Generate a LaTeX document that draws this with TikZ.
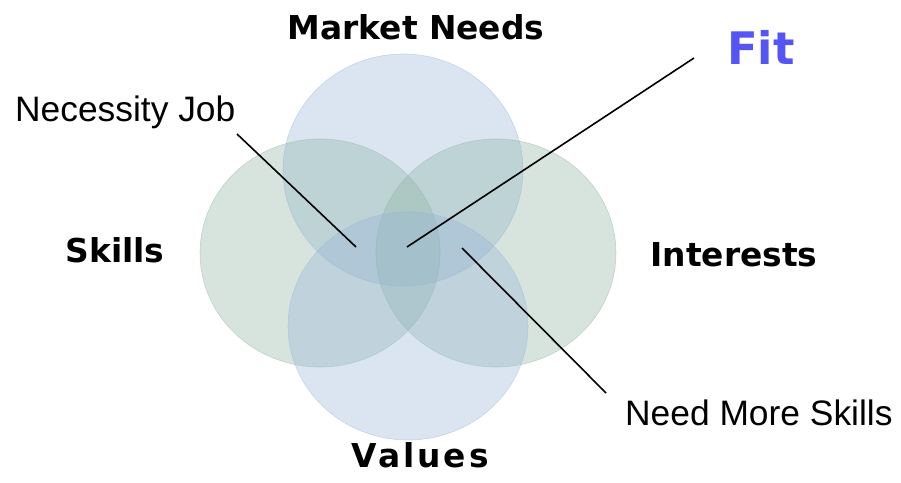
\documentclass[tikz,border=0pt]{standalone}
\usepackage{fontspec}
\setmainfont{Liberation Sans}
\newfontfamily\verdana{DejaVu Sans}
\usetikzlibrary{positioning}
\definecolor{vennblue}{RGB}{148,180,216}
\definecolor{venngreen}{RGB}{141,178,161}
\definecolor{fitblue}{RGB}{85,85,245}
\tikzset{%
  % Specifications for style of sets and labels:
        setbase/.style = {draw opacity=0.45, line width=0.6pt, fill opacity=0.35},
       bluesets/.style = {setbase, draw=vennblue, fill=vennblue},
      greensets/.style = {setbase, draw=venngreen, fill=venngreen},
       setlabel/.style = {inner sep=0pt, anchor=base,
                          font=\verdana\bfseries\fontsize{33}{40}\selectfont},
      arealabel/.style = {inner sep=0pt, anchor=base west,
                          font=\fontsize{35.5}{42}\selectfont},
        pointer/.style = {draw=black, line width=1.6bp},
}
\begin{document}
\begin{tikzpicture}[x=1bp, y=-1bp]
  \useasboundingbox (0,0) rectangle (901,483);
  % Specification of sets (position, etc.)
  \draw[bluesets]  (403,170) ellipse [x radius=120bp, y radius=116bp];
  \draw[greensets] (320,253) ellipse [x radius=120bp, y radius=114bp];
  \draw[greensets] (496,253) ellipse [x radius=120bp, y radius=114bp];
  \draw[bluesets]  (408,326) ellipse [x radius=120bp, y radius=114bp];
  % Labels of the sets
  \node (market)    [setlabel] at (416,40)  {Market Needs};
  \node (skills)    [setlabel] at (115,263) {Skills};
  \node (interests) [setlabel] at (734,267) {Interests};
  \node (values)    [setlabel,
                     font=\verdana\bfseries\fontsize{33}{40}\selectfont\addfontfeature{LetterSpace=9}]
                     at (420,467) {Values};
  \node (fit)       [setlabel, text=fitblue,
                     font=\verdana\bfseries\fontsize{45}{54}\selectfont] at (761,65) {Fit};
  \node (necjob)     [arealabel] at (15,122)  {Necessity Job};
  \node (moreskills) [arealabel] at (625,425) {Need More Skills};
  % Specification of pointers between labels and overlaps
  \coordinate (necpt)    at (356,247);
  \coordinate (fitpt)    at (407,247);
  \coordinate (skillpt)  at (462,248);
  \coordinate (necend)   at (237,134);
  \coordinate (fitend)   at (694,58);
  \coordinate (skillend) at (606,393);
  \draw[pointer] (necend) -- (necpt);
  \draw[pointer] (fitend) -- (fitpt);
  \draw[pointer] (skillend) -- (skillpt);
\end{tikzpicture}
\end{document}
